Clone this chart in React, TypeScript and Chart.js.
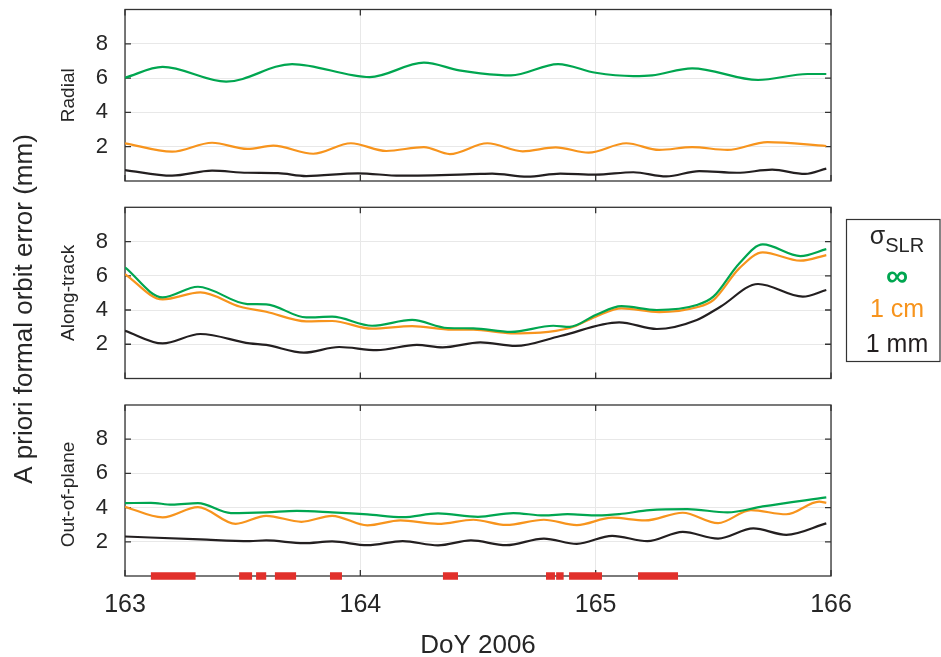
import React, { useEffect, useRef } from 'react';
import { Chart, registerables } from 'chart.js';

Chart.register(...registerables);

type Pt = [number, number];

// ---------- DATA ----------
const xTicks = [163, 164, 165, 166];
const yTicks = [2, 4, 6, 8];
const panelLabels = ['Radial', 'Along-track', 'Out-of-plane'];
const xTitle = 'DoY 2006';
const yTitle = 'A priori formal orbit error (mm)';
const legendSymbol = 'σ';
const legendSub = 'SLR';
const legendEntries = ['∞', '1 cm', '1 mm'];

const radialInf: Pt[] = [
  [163.0, 6.02], [163.16, 6.65], [163.43, 5.79], [163.71, 6.82], [164.04, 6.06], [164.27, 6.9],
  [164.42, 6.45], [164.51, 6.28], [164.64, 6.16], [164.84, 6.82], [165.0, 6.31], [165.16, 6.12],
  [165.24, 6.16], [165.41, 6.57], [165.69, 5.89], [165.9, 6.24], [165.98, 6.24],
];
const radial1cm: Pt[] = [
  [163.0, 2.2], [163.2, 1.71], [163.37, 2.23], [163.52, 1.87], [163.63, 2.06], [163.8, 1.59],
  [163.96, 2.2], [164.11, 1.75], [164.27, 1.98], [164.38, 1.57], [164.54, 2.2], [164.69, 1.73],
  [164.83, 1.96], [164.97, 1.65], [165.13, 2.2], [165.27, 1.81], [165.41, 1.98], [165.56, 1.81],
  [165.73, 2.27], [165.98, 2.04],
];
const radial1mm: Pt[] = [
  [163.0, 0.64], [163.2, 0.31], [163.37, 0.6], [163.52, 0.48], [163.65, 0.46], [163.77, 0.29],
  [163.99, 0.45], [164.17, 0.31], [164.51, 0.41], [164.56, 0.43], [164.71, 0.25], [164.85, 0.43],
  [165.0, 0.37], [165.16, 0.51], [165.3, 0.27], [165.44, 0.58], [165.6, 0.48], [165.75, 0.66],
  [165.89, 0.41], [165.98, 0.72],
];

const alongInf: Pt[] = [
  [163.0, 6.49], [163.16, 4.74], [163.31, 5.36], [163.52, 4.35], [163.6, 4.33], [163.77, 3.57],
  [163.88, 3.61], [164.05, 3.08], [164.22, 3.42], [164.37, 2.95], [164.48, 2.93], [164.64, 2.72],
  [164.82, 3.08], [164.89, 3.02], [165.0, 3.71], [165.11, 4.23], [165.26, 4.0], [165.43, 4.29],
  [165.5, 4.78], [165.61, 6.72], [165.71, 7.83], [165.87, 7.15], [165.98, 7.56],
];
const along1cm: Pt[] = [
  [163.0, 6.1], [163.16, 4.62], [163.32, 5.03], [163.49, 4.19], [163.6, 3.9], [163.77, 3.34],
  [163.88, 3.36], [164.05, 2.91], [164.22, 3.06], [164.39, 2.85], [164.48, 2.85], [164.64, 2.64],
  [164.89, 2.95], [165.0, 3.61], [165.11, 4.1], [165.27, 3.88], [165.43, 4.16], [165.5, 4.58],
  [165.61, 6.43], [165.71, 7.37], [165.87, 6.88], [165.98, 7.21],
];
const along1mm: Pt[] = [
  [163.0, 2.79], [163.16, 2.05], [163.32, 2.6], [163.53, 2.05], [163.6, 1.96], [163.76, 1.51],
  [163.91, 1.84], [164.07, 1.66], [164.24, 1.96], [164.35, 1.82], [164.51, 2.11], [164.66, 1.9],
  [164.85, 2.48], [165.1, 3.28], [165.26, 2.89], [165.43, 3.42], [165.53, 4.19], [165.69, 5.52],
  [165.88, 4.78], [165.98, 5.17],
];

const outInf: Pt[] = [
  [163.0, 4.26], [163.11, 4.28], [163.2, 4.17], [163.31, 4.26], [163.45, 3.68], [163.6, 3.72],
  [163.73, 3.81], [163.88, 3.72], [164.03, 3.6], [164.18, 3.44], [164.33, 3.66], [164.5, 3.46],
  [164.65, 3.68], [164.78, 3.54], [164.88, 3.62], [165.01, 3.54], [165.1, 3.62], [165.23, 3.85],
  [165.39, 3.91], [165.56, 3.72], [165.71, 4.07], [165.98, 4.6],
];
const out1cm: Pt[] = [
  [163.0, 4.05], [163.16, 3.43], [163.31, 4.03], [163.47, 3.05], [163.6, 3.52], [163.75, 3.17],
  [163.88, 3.52], [164.03, 2.96], [164.17, 3.25], [164.33, 3.05], [164.48, 3.29], [164.62, 2.99],
  [164.78, 3.29], [164.92, 2.98], [165.07, 3.41], [165.21, 3.25], [165.37, 3.7], [165.52, 3.09],
  [165.66, 3.85], [165.81, 3.61], [165.95, 4.35], [165.98, 4.28],
];
const out1mm: Pt[] = [
  [163.0, 2.31], [163.32, 2.14], [163.53, 2.04], [163.6, 2.08], [163.76, 1.92], [163.88, 2.02],
  [164.03, 1.8], [164.18, 2.04], [164.33, 1.79], [164.47, 2.08], [164.62, 1.8], [164.78, 2.19],
  [164.92, 1.88], [165.07, 2.35], [165.22, 2.04], [165.37, 2.58], [165.52, 2.19], [165.67, 2.78],
  [165.81, 2.41], [165.98, 3.08],
];

// SLR tracking passes (start / end DoY)
const slrPassStart = [163.11, 163.485, 163.557, 163.637, 163.871, 164.351, 164.789, 164.832, 164.887, 165.18];
const slrPassEnd = [163.3, 163.54, 163.6, 163.727, 163.922, 164.415, 164.827, 164.864, 165.027, 165.35];

// ---------- STYLE ----------
const FONT = '"Liberation Sans", Arial, Helvetica, sans-serif';
const TXT = '#262626';
const GREEN = '#00a650';
const ORANGE = '#f7941d';
const BLACK = '#231f20';
const RED = '#e1302b';
const GRID = '#e8e8e8';
const W = 941;
const H = 657;

const panelSeries = [
  [radialInf, radial1cm, radial1mm],
  [alongInf, along1cm, along1mm],
  [outInf, out1cm, out1mm],
];
const panelBox = [
  { top: 9.5, bottom: 181, xH: 0 },
  { top: 207.3, bottom: 378.5, xH: 0 },
  { top: 405, bottom: 576, xH: 40 },
];

const toXY = (pts: Pt[]) => pts.map(([x, y]) => ({ x, y }));

function passSegments() {
  const out: { x: number; y: number | null }[] = [];
  slrPassStart.forEach((s, i) => {
    out.push({ x: s, y: 0 }, { x: slrPassEnd[i], y: 0 }, { x: slrPassEnd[i], y: null });
  });
  return out;
}

const framePlugin = {
  id: 'frame',
  beforeDatasetsDraw(chart: any) {
    const { ctx, chartArea, scales } = chart;
    const { left, right, top, bottom } = chartArea;
    ctx.save();
    ctx.strokeStyle = '#333333';
    ctx.lineWidth = 1.3;
    ctx.strokeRect(left, top, right - left, bottom - top);
    ctx.beginPath();
    const tl = 6;
    scales.y.ticks.forEach((t: any) => {
      const py = scales.y.getPixelForValue(t.value);
      ctx.moveTo(left, py); ctx.lineTo(left + tl, py);
      ctx.moveTo(right, py); ctx.lineTo(right - tl, py);
    });
    scales.x.ticks.forEach((t: any) => {
      const px = scales.x.getPixelForValue(t.value);
      ctx.moveTo(px, bottom); ctx.lineTo(px, bottom - tl);
      ctx.moveTo(px, top); ctx.lineTo(px, top + tl);
    });
    ctx.stroke();
    ctx.restore();
  },
};

function makeTextPlugin(idx: number) {
  return {
    id: 'texts' + idx,
    afterDraw(chart: any) {
      const { ctx, chartArea } = chart;
      ctx.save();
      ctx.fillStyle = TXT;
      ctx.textAlign = 'center';
      ctx.textBaseline = 'alphabetic';
      // panel label
      ctx.save();
      ctx.font = `19px ${FONT}`;
      ctx.translate(74, (chartArea.top + chartArea.bottom) / 2 + (idx === 2 ? 4 : 0));
      ctx.rotate(-Math.PI / 2);
      ctx.fillText(panelLabels[idx], 0, 0);
      ctx.restore();

      if (idx === 1) {
        // y title
        ctx.save();
        ctx.font = `26px ${FONT}`;
        ctx.translate(32, 309);
        ctx.rotate(-Math.PI / 2);
        ctx.fillText(yTitle, 0, 0);
        ctx.restore();

        // legend box
        ctx.strokeStyle = '#333333';
        ctx.lineWidth = 1.2;
        ctx.strokeRect(846.5, 219.5, 93.5, 142);
        const cx = 897;
        ctx.font = `25px ${FONT}`;
        const ws = ctx.measureText(legendSymbol).width;
        ctx.font = `20px ${FONT}`;
        const wsub = ctx.measureText(legendSub).width;
        const sx = cx - (ws + wsub) / 2;
        ctx.textAlign = 'left';
        ctx.fillStyle = TXT;
        ctx.font = `25px ${FONT}`;
        ctx.fillText(legendSymbol, sx, 244);
        ctx.font = `20px ${FONT}`;
        ctx.fillText(legendSub, sx + ws, 251.5);
        ctx.textAlign = 'center';
        const cols = [GREEN, ORANGE, BLACK];
        const bases = [286, 317, 352];
        legendEntries.forEach((t, i) => {
          ctx.fillStyle = cols[i];
          ctx.font = i === 0 ? `bold 31px ${FONT}` : `25px ${FONT}`;
          ctx.fillText(t, cx, bases[i]);
        });
      }
      if (idx === 2) {
        ctx.fillStyle = TXT;
        ctx.font = `26px ${FONT}`;
        ctx.fillText(xTitle, (chartArea.left + chartArea.right) / 2, 653);
      }
      ctx.restore();
    },
  };
}

function makeConfig(idx: number): any {
  const box = panelBox[idx];
  const [sInf, s1cm, s1mm] = panelSeries[idx];
  const lineDs = (data: Pt[], color: string) => ({
    data: toXY(data),
    borderColor: color,
    borderWidth: 2.2,
    pointRadius: 0,
    fill: false,
    cubicInterpolationMode: 'monotone',
  });
  const datasets: any[] = [];
  if (idx === 2) {
    datasets.push({
      data: passSegments(),
      borderColor: RED,
      borderWidth: 7.6,
      borderCapStyle: 'butt',
      pointRadius: 0,
      spanGaps: false,
      tension: 0,
      clip: false,
    });
  }
  datasets.push(lineDs(sInf, GREEN), lineDs(s1cm, ORANGE), lineDs(s1mm, BLACK));

  return {
    type: 'line',
    data: { datasets },
    options: {
      animation: false,
      responsive: false,
      maintainAspectRatio: false,
      events: [],
      layout: { padding: { left: 0, right: W - 831, top: box.top, bottom: H - box.bottom - box.xH } },
      plugins: { legend: { display: false }, tooltip: { enabled: false } },
      scales: {
        x: {
          type: 'linear',
          min: 163,
          max: 166,
          afterBuildTicks: (s: any) => { s.ticks = xTicks.map((v) => ({ value: v })); },
          ticks: {
            display: idx === 2,
            font: { family: FONT, size: 25 },
            color: TXT,
            padding: 14,
            maxRotation: 0,
            autoSkip: false,
            callback: (v: any) => String(v),
          },
          grid: { color: GRID, lineWidth: 1, drawTicks: false },
          border: { display: false },
          afterFit: (s: any) => {
            s.height = box.xH;
            s.paddingLeft = 0; s.paddingRight = 0; s.paddingTop = 0; s.paddingBottom = 0;
          },
        },
        y: {
          type: 'linear',
          min: 0,
          max: 10,
          afterBuildTicks: (s: any) => { s.ticks = yTicks.map((v) => ({ value: v })); },
          ticks: {
            font: { family: FONT, size: 22 },
            color: TXT,
            padding: 17,
            autoSkip: false,
            callback: (v: any) => String(v),
          },
          grid: { color: GRID, lineWidth: 1, drawTicks: false },
          border: { display: false },
          afterFit: (s: any) => {
            s.width = 125;
            s.paddingLeft = 0; s.paddingRight = 0; s.paddingTop = 0; s.paddingBottom = 0;
          },
        },
      },
    },
    plugins: [framePlugin, makeTextPlugin(idx)],
  };
}

function Panel({ idx }: { idx: number }) {
  const ref = useRef<HTMLCanvasElement>(null);
  useEffect(() => {
    const chart = new Chart(ref.current as HTMLCanvasElement, makeConfig(idx));
    return () => chart.destroy();
  }, [idx]);
  return (
    <canvas
      ref={ref}
      width={W}
      height={H}
      style={{ position: 'absolute', left: 0, top: 0, width: W, height: H }}
    />
  );
}

export default function App() {
  return (
    <div style={{ position: 'fixed', left: 0, top: 0, width: W, height: H, background: '#ffffff', overflow: 'hidden' }}>
      <Panel idx={0} />
      <Panel idx={1} />
      <Panel idx={2} />
    </div>
  );
}
